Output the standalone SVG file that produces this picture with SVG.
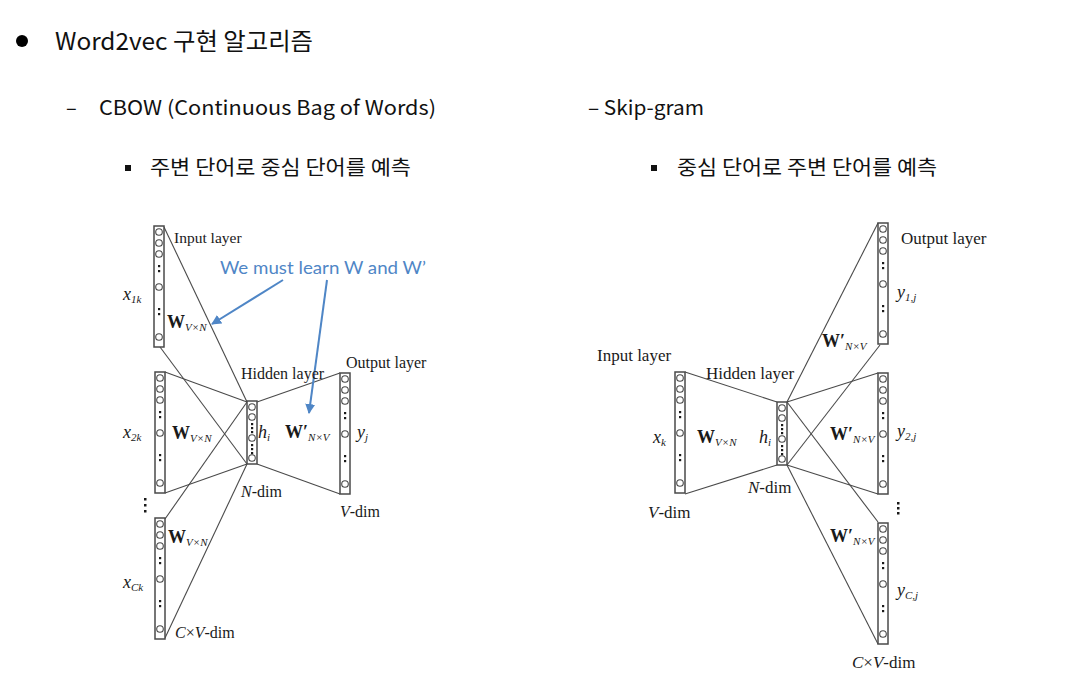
<svg xmlns="http://www.w3.org/2000/svg" xmlns:xlink="http://www.w3.org/1999/xlink" width="1070" height="678" viewBox="0 0 1070 678">
<style>
.hd{font-family:"Noto Sans CJK KR","Noto Sans",sans-serif;fill:#111}
.lb{font-family:"Liberation Serif",serif;fill:#1a1a1a}
.it{font-style:italic}
.bw{font-weight:bold;font-size:18px}
.mx{font-style:italic;font-size:18px}
.sub{font-style:italic;font-size:11px}
.ln{stroke:#4a4a4a;stroke-width:1.1;fill:none}
.col{fill:#fff;stroke:#4a4a4a;stroke-width:1.5}
.cir{fill:#fff;stroke:#4a4a4a;stroke-width:1.1}
.dot{fill:#1a1a1a}
.blue{stroke:#4F86C6;stroke-width:2;fill:none}
</style>
<defs>
<g id="col">
<rect class="col" x="0" y="0" width="10" height="121"/>
<circle class="cir" cx="5" cy="6" r="3.3"/>
<circle class="cir" cx="5" cy="17" r="3.3"/>
<circle class="cir" cx="5" cy="28" r="3.3"/>
<rect class="dot" x="4" y="39" width="2.2" height="2.2"/>
<rect class="dot" x="4" y="44" width="2.2" height="2.2"/>
<circle class="cir" cx="5" cy="61" r="3.3"/>
<rect class="dot" x="4" y="82" width="2.2" height="2.2"/>
<rect class="dot" x="4" y="87" width="2.2" height="2.2"/>
<circle class="cir" cx="5" cy="111" r="3.3"/>
</g>
<g id="hid">
<rect class="col" x="0" y="0" width="10" height="63"/>
<circle class="cir" cx="5" cy="6" r="3.3"/>
<circle class="cir" cx="5" cy="16" r="3.3"/>
<rect class="dot" x="4" y="22" width="2.2" height="2.2"/>
<rect class="dot" x="4" y="26" width="2.2" height="2.2"/>
<rect class="dot" x="4" y="30" width="2.2" height="2.2"/>
<circle class="cir" cx="5" cy="37" r="3.3"/>
<rect class="dot" x="4" y="43" width="2.2" height="2.2"/>
<rect class="dot" x="4" y="47" width="2.2" height="2.2"/>
<rect class="dot" x="4" y="51" width="2.2" height="2.2"/>
<circle class="cir" cx="5" cy="57" r="3.3"/>
</g>
<marker id="ah" viewBox="0 0 10 10" refX="9" refY="5" markerWidth="5" markerHeight="5" orient="auto">
<path d="M0,0 L10,5 L0,10 z" fill="#4F86C6"/>
</marker>
</defs>

<g id="header">
<circle cx="22" cy="41" r="6" fill="#000"/>
<text class="hd" x="55" y="50" font-size="24" textLength="258" lengthAdjust="spacingAndGlyphs">Word2vec 구현 알고리즘</text>
<text class="hd" x="66" y="115" font-size="20">–</text>
<text class="hd" x="99" y="115" font-size="20" textLength="337" lengthAdjust="spacingAndGlyphs">CBOW (Continuous Bag of Words)</text>
<text class="hd" x="588" y="115" font-size="20" textLength="116" lengthAdjust="spacingAndGlyphs">– Skip-gram</text>
<rect x="125" y="165" width="6" height="6" fill="#111"/>
<text class="hd" x="150" y="175" font-size="20" textLength="261" lengthAdjust="spacingAndGlyphs">주변 단어로 중심 단어를 예측</text>
<rect x="651" y="165" width="6" height="6" fill="#111"/>
<text class="hd" x="677" y="175" font-size="20" textLength="260" lengthAdjust="spacingAndGlyphs">중심 단어로 주변 단어를 예측</text>
</g>

<g id="connectors">
<line class="ln" x1="164" y1="227" x2="247" y2="402"/>
<line class="ln" x1="160" y1="347" x2="247" y2="464"/>
<line class="ln" x1="165" y1="372" x2="247" y2="402"/>
<line class="ln" x1="165" y1="493" x2="247" y2="464"/>
<line class="ln" x1="165" y1="519" x2="247" y2="402"/>
<line class="ln" x1="165" y1="638" x2="247" y2="464"/>
<line class="ln" x1="257" y1="402" x2="340" y2="373"/>
<line class="ln" x1="257" y1="464" x2="340" y2="494"/>
<line class="blue" x1="283" y1="280" x2="212" y2="324" marker-end="url(#ah)"/>
<line class="blue" x1="327" y1="280" x2="309" y2="413" marker-end="url(#ah)"/>
<line class="ln" x1="685" y1="372" x2="777" y2="402"/>
<line class="ln" x1="685" y1="494" x2="777" y2="465"/>
<line class="ln" x1="787" y1="402" x2="878" y2="223"/>
<line class="ln" x1="880" y1="345" x2="787" y2="465"/>
<line class="ln" x1="787" y1="402" x2="878" y2="373"/>
<line class="ln" x1="787" y1="465" x2="878" y2="494"/>
<line class="ln" x1="787" y1="402" x2="878" y2="522"/>
<line class="ln" x1="787" y1="465" x2="878" y2="644"/>
</g>

<g id="cbow-input1"><use xlink:href="#col" x="154" y="226"/></g>
<g id="cbow-input2"><use xlink:href="#col" x="155" y="372"/></g>
<g id="cbow-input3"><use xlink:href="#col" x="155" y="518"/></g>
<g id="cbow-hidden"><use xlink:href="#hid" x="247" y="401"/></g>
<g id="cbow-output"><use xlink:href="#col" x="340" y="373"/></g>

<g id="sg-input"><use xlink:href="#col" x="675" y="372"/></g>
<g id="sg-hidden"><use xlink:href="#hid" x="777" y="402"/></g>
<g id="sg-output1"><use xlink:href="#col" x="878" y="223"/></g>
<g id="sg-output2"><use xlink:href="#col" x="878" y="373"/></g>
<g id="sg-outputC"><use xlink:href="#col" x="878" y="523"/></g>

<g id="cbow-labels" class="lb">
<text x="174" y="243" font-size="15.5">Input layer</text>
<text x="220" y="274" font-family="Lato, 'Open Sans', sans-serif" font-size="17" fill="#4F86C6" textLength="206" lengthAdjust="spacingAndGlyphs">We must learn W and W’</text>
<text x="123" y="300"><tspan class="mx">x</tspan><tspan class="sub" dy="3">1k</tspan></text>
<text x="167" y="328"><tspan class="bw">W</tspan><tspan class="sub" dy="3">V×N</tspan></text>
<text x="241" y="379" font-size="16">Hidden layer</text>
<text x="346" y="368" font-size="16">Output layer</text>
<text x="123" y="438"><tspan class="mx">x</tspan><tspan class="sub" dy="3">2k</tspan></text>
<text x="172" y="439"><tspan class="bw">W</tspan><tspan class="sub" dy="3">V×N</tspan></text>
<text x="258" y="438"><tspan class="mx">h</tspan><tspan class="sub" dy="3">i</tspan></text>
<text x="285" y="438"><tspan class="bw">W′</tspan><tspan class="sub" dy="3">N×V</tspan></text>
<text x="357" y="438"><tspan class="mx">y</tspan><tspan class="sub" dy="3">j</tspan></text>
<text x="241" y="497" font-size="16"><tspan class="it">N</tspan>-dim</text>
<text x="340" y="517" font-size="16"><tspan class="it">V</tspan>-dim</text>
<rect class="dot" x="144" y="498" width="2.5" height="2.5"/>
<rect class="dot" x="144" y="504" width="2.5" height="2.5"/>
<rect class="dot" x="144" y="510" width="2.5" height="2.5"/>
<text x="168" y="543"><tspan class="bw">W</tspan><tspan class="sub" dy="3">V×N</tspan></text>
<text x="123" y="588"><tspan class="mx">x</tspan><tspan class="sub" dy="3">Ck</tspan></text>
<text x="175" y="638" font-size="16"><tspan class="it">C</tspan>×<tspan class="it">V</tspan>-dim</text>
</g>

<g id="sg-labels" class="lb">
<text x="901" y="244" font-size="17">Output layer</text>
<text x="897" y="298"><tspan class="mx">y</tspan><tspan class="sub" dy="3">1,j</tspan></text>
<text x="822" y="347"><tspan class="bw">W′</tspan><tspan class="sub" dy="3">N×V</tspan></text>
<text x="597" y="361" font-size="17">Input layer</text>
<text x="706" y="379" font-size="17">Hidden layer</text>
<text x="653" y="443"><tspan class="mx">x</tspan><tspan class="sub" dy="3">k</tspan></text>
<text x="697" y="443"><tspan class="bw">W</tspan><tspan class="sub" dy="3">V×N</tspan></text>
<text x="759" y="443"><tspan class="mx">h</tspan><tspan class="sub" dy="3">i</tspan></text>
<text x="748" y="493" font-size="17"><tspan class="it">N</tspan>-dim</text>
<text x="648" y="518" font-size="17"><tspan class="it">V</tspan>-dim</text>
<text x="897" y="437"><tspan class="mx">y</tspan><tspan class="sub" dy="3">2,j</tspan></text>
<text x="830" y="440"><tspan class="bw">W′</tspan><tspan class="sub" dy="3">N×V</tspan></text>
<rect class="dot" x="897" y="502" width="2.5" height="2.5"/>
<rect class="dot" x="897" y="507" width="2.5" height="2.5"/>
<rect class="dot" x="897" y="512" width="2.5" height="2.5"/>
<text x="830" y="542"><tspan class="bw">W′</tspan><tspan class="sub" dy="3">N×V</tspan></text>
<text x="897" y="596"><tspan class="mx">y</tspan><tspan class="sub" dy="3">C,j</tspan></text>
<text x="852" y="668" font-size="17"><tspan class="it">C</tspan>×<tspan class="it">V</tspan>-dim</text>
</g>
</svg>
